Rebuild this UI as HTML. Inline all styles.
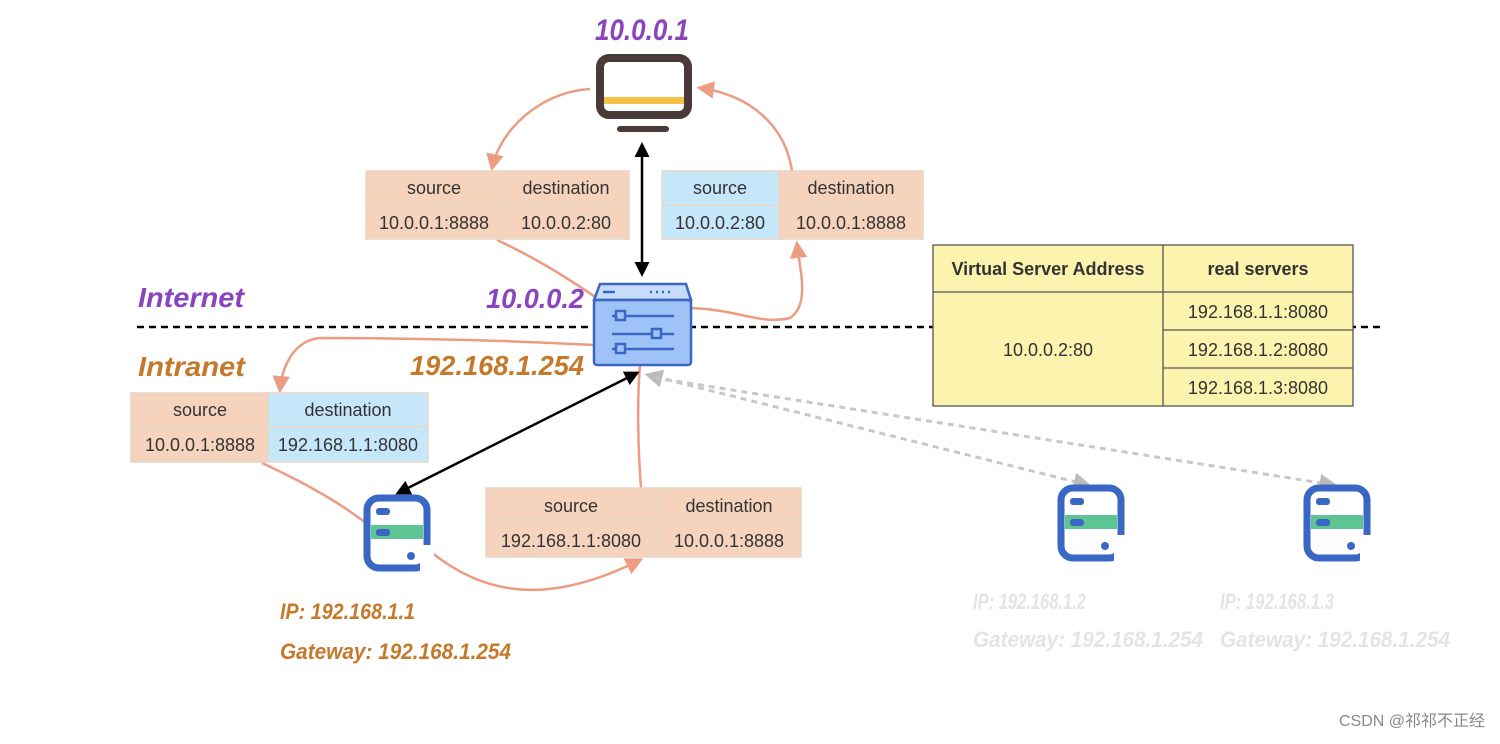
<!DOCTYPE html>
<html><head><meta charset="utf-8"><style>
body{margin:0;background:#fff}
svg text{font-family:"Liberation Sans",sans-serif}
.h{font-style:italic;font-weight:bold}
.t{font-size:18px;fill:#333}
</style></head><body>
<svg width="1500" height="739" viewBox="0 0 1500 739" xmlns="http://www.w3.org/2000/svg">
<defs>
<marker id="sa" viewBox="0 0 10 10" refX="8" refY="5" markerWidth="7" markerHeight="7" orient="auto-start-reverse"><path d="M0,0L10,5L0,10z" fill="#ec9c82"/></marker>
<marker id="ba" viewBox="0 0 10 10" refX="8" refY="5" markerWidth="6" markerHeight="6" orient="auto-start-reverse"><path d="M0,0L10,5L0,10z" fill="#000"/></marker>
<marker id="ga" viewBox="0 0 10 10" refX="8" refY="5" markerWidth="6" markerHeight="6" orient="auto-start-reverse"><path d="M0,0L10,5L0,10z" fill="#bbb"/></marker>
</defs>
<line x1="137" y1="327" x2="1382" y2="327" stroke="#000" stroke-width="2.5" stroke-dasharray="7,5"/>
<g fill="none" stroke="#ec9c82" stroke-width="2.5">
<path d="M590,89 C540,92 500,130 492,168" marker-end="url(#sa)"/>
<path d="M792,171 C785,125 750,95 700,88" marker-end="url(#sa)"/>
<path d="M497,240 C540,260 570,280 600,300"/>
<path d="M692,308 C740,310 760,325 790,318 C810,305 800,270 797,244" marker-end="url(#sa)"/>
<path d="M594,345 C500,340 400,338 320,338 C295,340 282,365 280,390" marker-end="url(#sa)"/>
<path d="M262,463 C320,490 350,510 375,530"/>
<path d="M432,553 C480,590 540,610 640,560" marker-end="url(#sa)"/>
<path d="M641,488 C638,450 637,400 640,365"/>
</g>
<line x1="642" y1="145" x2="642" y2="274" stroke="#000" stroke-width="2.5" marker-start="url(#ba)" marker-end="url(#ba)"/>
<line x1="398" y1="493" x2="637" y2="373" stroke="#000" stroke-width="2.5" marker-start="url(#ba)" marker-end="url(#ba)"/>
<g fill="none" stroke="#c8c8c8" stroke-width="3" stroke-dasharray="6,5">
<line x1="1088" y1="485" x2="648" y2="375" marker-start="url(#ga)" marker-end="url(#ga)"/>
<line x1="1334" y1="485" x2="656" y2="378" marker-start="url(#ga)"/>
</g>
<rect x="600" y="58" width="88" height="57" rx="9" fill="#fff" stroke="#4a3b38" stroke-width="8"/>
<rect x="604" y="97" width="80" height="7" fill="#f6c146"/>
<line x1="620" y1="129" x2="666" y2="129" stroke="#4a3b38" stroke-width="6" stroke-linecap="round"/>
<text x="642" y="40" text-anchor="middle" class="h" font-size="30" fill="#8a44c0" textLength="94" lengthAdjust="spacingAndGlyphs">10.0.0.1</text>
<path d="M600,284 L686,284 L691,300 L594,300 Z" fill="#c6dcfa" stroke="#3a66c4" stroke-width="2.5"/>
<rect x="594" y="300" width="97" height="65" rx="3" fill="#9fc3f7" stroke="#3a66c4" stroke-width="2.5"/>
<line x1="603" y1="292" x2="615" y2="292" stroke="#3a66c4" stroke-width="2.5"/>
<line x1="650" y1="292" x2="672" y2="292" stroke="#3a66c4" stroke-width="2.5" stroke-dasharray="2,4"/>
<g stroke="#3a66c4" stroke-width="2.5" fill="#9fc3f7">
<line x1="612" y1="316" x2="674" y2="316"/><line x1="612" y1="334" x2="674" y2="334"/><line x1="612" y1="349" x2="674" y2="349"/>
<rect x="616" y="311" width="9" height="9"/><rect x="652" y="329" width="9" height="9"/><rect x="616" y="344" width="9" height="9"/>
</g>
<text x="486" y="308" class="h" font-size="28" fill="#8a44c0" textLength="98" lengthAdjust="spacingAndGlyphs">10.0.0.2</text>
<text x="410" y="375" class="h" font-size="28" fill="#c47a2a" textLength="174" lengthAdjust="spacingAndGlyphs">192.168.1.254</text>
<text x="138" y="307" class="h" font-size="28" fill="#8a44c0" textLength="106" lengthAdjust="spacingAndGlyphs">Internet</text>
<text x="138" y="376" class="h" font-size="28" fill="#c47a2a" textLength="107" lengthAdjust="spacingAndGlyphs">Intranet</text>
<g id="srv">
<rect x="367" y="498" width="60" height="70" rx="12" fill="#fff" stroke="#3a66c4" stroke-width="7"/>
<rect x="371" y="525" width="52" height="14" fill="#5dc593"/>
<rect x="376" y="508" width="14" height="7" rx="3" fill="#3a66c4"/>
<rect x="376" y="529" width="14" height="7" rx="3" fill="#3a66c4"/>
<circle cx="411" cy="556" r="4" fill="#3a66c4"/>
<rect x="420" y="545" width="14" height="26" fill="#fff"/>
</g>
<use href="#srv" x="694" y="-10"/>
<use href="#srv" x="940" y="-10"/>
<text x="280" y="619" class="h" font-size="22" fill="#c47a2a" textLength="135" lengthAdjust="spacingAndGlyphs">IP: 192.168.1.1</text>
<text x="280" y="659" class="h" font-size="22" fill="#c47a2a" textLength="231" lengthAdjust="spacingAndGlyphs">Gateway: 192.168.1.254</text>
<g class="h" font-size="22" fill="#e4e4e4">
<text x="973" y="609" textLength="113" lengthAdjust="spacingAndGlyphs">IP: 192.168.1.2</text><text x="973" y="647" textLength="230" lengthAdjust="spacingAndGlyphs">Gateway: 192.168.1.254</text>
<text x="1220" y="609" textLength="114" lengthAdjust="spacingAndGlyphs">IP: 192.168.1.3</text><text x="1220" y="647" textLength="230" lengthAdjust="spacingAndGlyphs">Gateway: 192.168.1.254</text>
</g>
<g stroke="#e6d6c8" stroke-width="1.5">
<rect x="366" y="171" width="137" height="68" fill="#f5d3bc"/><rect x="503" y="171" width="126" height="68" fill="#f5d3bc"/>
<rect x="662" y="171" width="117" height="68" fill="#c6e6fa"/><rect x="779" y="171" width="144" height="68" fill="#f5d3bc"/>
<rect x="131" y="393" width="137" height="69" fill="#f5d3bc"/><rect x="268" y="393" width="160" height="69" fill="#c6e6fa"/>
<rect x="486" y="488" width="171" height="69" fill="#f5d3bc"/><rect x="657" y="488" width="144" height="69" fill="#f5d3bc"/>
<line x1="366" y1="205" x2="629" y2="205"/><line x1="662" y1="205" x2="923" y2="205"/>
<line x1="131" y1="427" x2="428" y2="427"/><line x1="486" y1="522" x2="801" y2="522"/>
</g>
<g class="t" text-anchor="middle">
<text x="434" y="194">source</text><text x="566" y="194">destination</text>
<text x="434" y="229">10.0.0.1:8888</text><text x="566" y="229">10.0.0.2:80</text>
<text x="720" y="194">source</text><text x="851" y="194">destination</text>
<text x="720" y="229">10.0.0.2:80</text><text x="851" y="229">10.0.0.1:8888</text>
<text x="200" y="416">source</text><text x="348" y="416">destination</text>
<text x="200" y="451">10.0.0.1:8888</text><text x="348" y="451">192.168.1.1:8080</text>
<text x="571" y="512">source</text><text x="729" y="512">destination</text>
<text x="571" y="547">192.168.1.1:8080</text><text x="729" y="547">10.0.0.1:8888</text>
</g>
<g stroke="#555" stroke-width="1.3" fill="#fbf3ae">
<rect x="933" y="245" width="420" height="161"/>
<line x1="933" y1="292" x2="1353" y2="292"/><line x1="1163" y1="245" x2="1163" y2="406"/>
<line x1="1163" y1="330" x2="1353" y2="330"/><line x1="1163" y1="368" x2="1353" y2="368"/>
</g>
<g class="t" text-anchor="middle">
<text x="1048" y="275" font-weight="bold">Virtual Server Address</text>
<text x="1258" y="275" font-weight="bold">real servers</text>
<text x="1048" y="356">10.0.0.2:80</text>
<text x="1258" y="318">192.168.1.1:8080</text><text x="1258" y="356">192.168.1.2:8080</text><text x="1258" y="394">192.168.1.3:8080</text>
</g>
<text x="1485" y="726" text-anchor="end" font-size="16" fill="#888" style="font-family:'Liberation Sans','Noto Sans CJK SC',sans-serif">CSDN @祁祁不正经</text>
</svg>
</body></html>
